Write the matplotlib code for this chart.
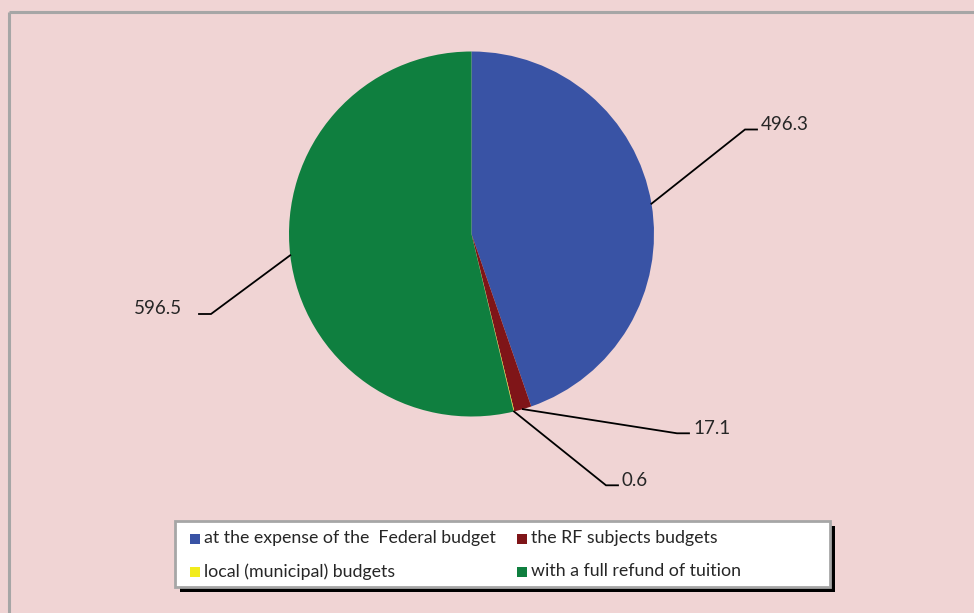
import numpy as np
import matplotlib
matplotlib.use("Agg")
import matplotlib.pyplot as plt
from matplotlib.patches import Rectangle

# ---- data ----
categories = ["at the expense of the  Federal budget", "the RF subjects budgets",
              "local (municipal) budgets", "with a full refund of tuition"]
values = [496.3, 17.1, 0.6, 596.5]
value_labels = ["496.3", "17.1", "0.6", "596.5"]
colors = ["#3953A5", "#7F1518", "#F2EC1C", "#0F7F3F"]

plt.rcParams['font.family'] = ['Lato', 'DejaVu Sans']
BG = "#F0D4D4"
TXT = "#262626"

W, H = 974, 613
fig = plt.figure(figsize=(W / 100, H / 100), dpi=100, facecolor=BG)
ax = fig.add_axes([0, 0, 1, 1])
ax.set_facecolor(BG)

def py(y):
    return H - y

cx, cy, R = 471.5, py(234), 182.5
wedges, _ = ax.pie(values, colors=colors, startangle=90, counterclock=False,
                   center=(cx, cy), radius=R, frame=True,
                   wedgeprops=dict(linewidth=0))
ax.set_xlim(0, W)
ax.set_ylim(0, H)
ax.set_aspect('auto')
ax.axis('off')

# outer border (top and left)
ax.plot([8.5, 8.5], [py(11.5), py(H + 5)], color="#A6A6A6", lw=2.2, solid_capstyle='butt')
ax.plot([8.5, W + 5], [py(11.5), py(11.5)], color="#A6A6A6", lw=2.2, solid_capstyle='butt')

# label layout: elbow positions (pixels), horizontal direction, segment length, text gap
elbows = [(745, 129.5), (677, 433.3), (606, 485.3), (211, 314)]
dirs = [1, 1, 1, -1]
seglen = [12, 12, 12, 12]
gaps = [4, 4, 4, 17]
for w, lab, (ex, ey), d, sl, g in zip(wedges, value_labels, elbows, dirs, seglen, gaps):
    ang = np.deg2rad((w.theta1 + w.theta2) / 2)
    sx, sy = cx + R * np.cos(ang), cy + R * np.sin(ang)
    ex2 = ex + d * sl
    ax.plot([sx, ex, ex2], [sy, py(ey), py(ey)], color="black", lw=1.3,
            solid_joinstyle='miter')
    ax.text(ex2 + d * g, py(ey) + 5, lab, ha='left' if d > 0 else 'right',
            va='center', fontsize=13.5, color=TXT)

# legend box with shadow
lx0, ly0, lx1, ly1 = 175, 521, 830, 587
ax.add_patch(Rectangle((lx0 + 5, py(ly1 + 5)), lx1 - lx0, ly1 - ly0,
                       facecolor="black", edgecolor="none", zorder=5))
ax.add_patch(Rectangle((lx0, py(ly1)), lx1 - lx0, ly1 - ly0,
                       facecolor="white", edgecolor="#A6A6A6", lw=2, zorder=6))

pos = [(190, 538.5), (517, 538.5), (190, 571.5), (517, 571.5)]
for (x, y), c, lab in zip(pos, colors, categories):
    ax.add_patch(Rectangle((x, py(y) - 5), 10, 10, facecolor=c, edgecolor='none', zorder=7))
    ax.text(x + 14, py(y), lab, ha='left', va='center', fontsize=12.75, color=TXT, zorder=7)

fig.savefig("out.png", dpi=100, facecolor=BG)
